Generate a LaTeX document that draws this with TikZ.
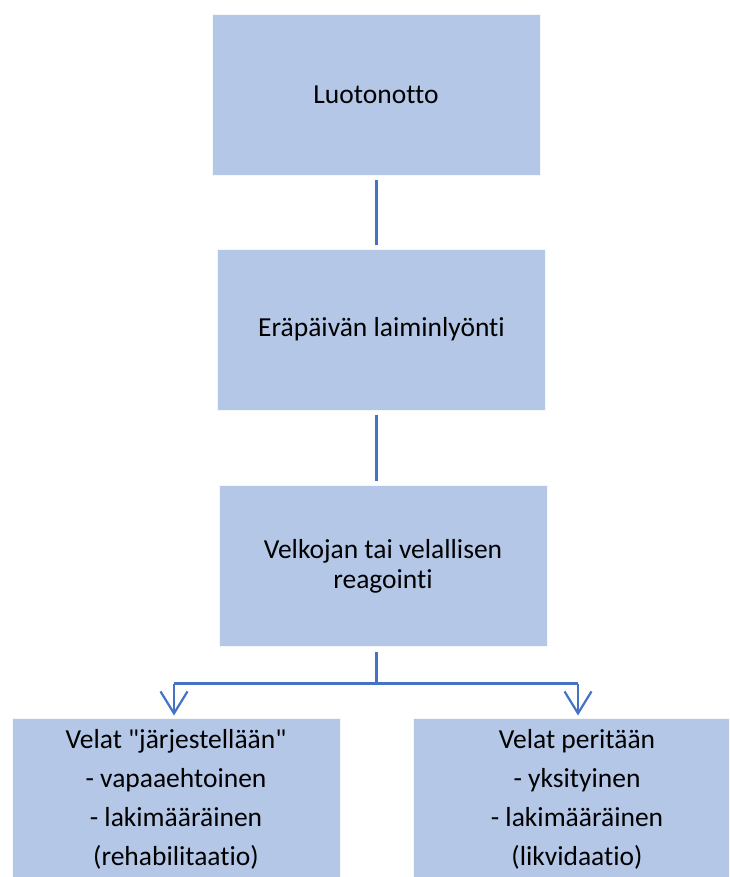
\documentclass[tikz,border=0pt]{standalone}
\usepackage{fontspec}
\setmainfont[Ligatures=NoCommon]{Carlito}
\usetikzlibrary{arrows.meta}
\definecolor{laatikko}{RGB}{180,199,231}
\definecolor{viiva}{RGB}{68,114,196}
\newcommand\lainaus{\XeTeXglyph\XeTeXcharglyph"22\relax}

\begin{document}
\begin{tikzpicture}[x=1pt, y=-1pt,
  box/.style={fill=laatikko, draw=white!85!laatikko, line width=0.8pt, minimum width=328pt, minimum height=161pt, outer sep=0pt, inner sep=0pt, align=center, font=\fontsize{27.5}{30}\selectfont},
  viivo/.style={draw=viiva, line width=3pt},
  nuoli/.style={draw=viiva, line width=2.6pt, -{Straight Barb[length=22pt, width=27pt, line width=2.2pt]}}]
\useasboundingbox (0,0) rectangle (729,877);
\clip (0,0) rectangle (729,877);

\node[box] (luoto) at (376,95) {Luotonotto};
\node[box] (erapaiva) at (381.5,329.5) {Eräpäivän laiminlyönti};
\node[box] (reagointi) at (383,566) {Velkojan tai velallisen\\reagointi};
\node[box, font=\fontsize{27.5}{39}\selectfont] (jarj) at (176,799) {Velat \lainaus järjestellään\lainaus\\- vapaaehtoinen\\- lakimääräinen\\(rehabilitaatio)};
\node[box, font=\fontsize{27.5}{39}\selectfont] (perinta) at (577,799) {Velat peritään\\- yksityinen\\- lakimääräinen\\(likvidaatio)};

\coordinate (haara) at (376,683.5);
\coordinate (vasen) at (174,683.5);
\coordinate (oikea) at (578,683.5);

\draw[viivo, shorten <=5pt, shorten >=4pt] (luoto.south -| haara) -- (erapaiva.north -| haara);
\draw[viivo, shorten <=5pt, shorten >=5pt] (erapaiva.south -| haara) -- (reagointi.north -| haara);
\draw[viivo, shorten <=5pt] (reagointi.south -| haara) -- (haara);
\draw[viivo, line width=2.6pt] (vasen) -- (oikea);
\draw[nuoli, shorten >=3pt] (vasen) -- (vasen |- jarj.north);
\draw[nuoli, shorten >=3pt] (oikea) -- (oikea |- perinta.north);
\end{tikzpicture}
\end{document}
